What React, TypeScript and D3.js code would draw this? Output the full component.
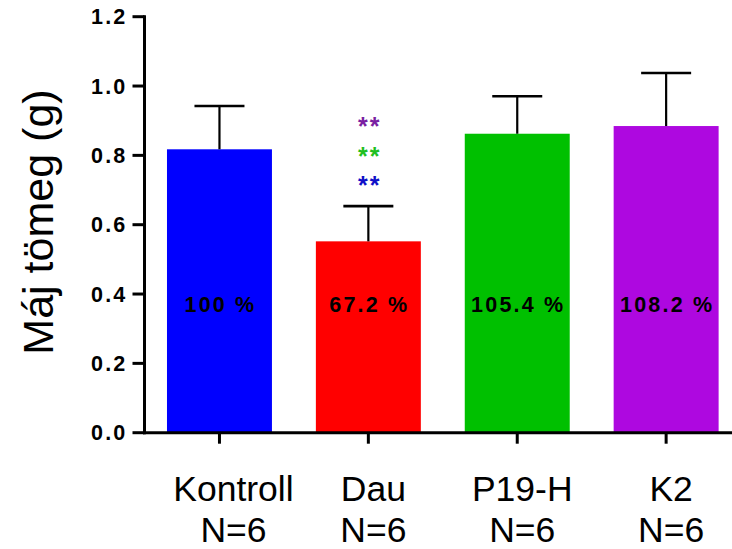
import React from 'react';
import * as d3 from 'd3';

// groups, means and SEM
const groups = ['Kontroll', 'Dau', 'P19-H', 'K2'];
const nLabels = ['N=6', 'N=6', 'N=6', 'N=6'];
const means = [0.8175, 0.552, 0.8624, 0.8846];
const sems = [0.125, 0.1017, 0.108, 0.153];
const percents = ['100 %', '67.2 %', '105.4 %', '108.2 %'];
const barColors = ['#0000ff', '#ff0000', '#00c000', '#ae08e0'];
const yTicks = [0, 0.2, 0.4, 0.6, 0.8, 1.0, 1.2];
// significance stars above Dau, bottom to top (vs Kontroll, P19-H, K2)
const starColors = ['#1010c8', '#1fbf1f', '#7a1fa2'];

const W = 732;
const H = 549;

export default function App() {
  const x = d3.scaleBand<string>()
    .domain(groups)
    .range([144.5, 741.1])
    .paddingInner(0.295)
    .paddingOuter(0.151);
  const y = d3.scaleLinear().domain([0, 1.2]).range([432.7, 16.7]);

  const axisX = 144.5;
  const bw = x.bandwidth();
  const capHalf = 25;
  const font = '"Liberation Sans", Arial, sans-serif';

  const dau = groups.indexOf('Dau');
  const dauCx = (x('Dau') as number) + bw / 2;
  const dauTop = y(means[dau] + sems[dau]);

  return (
    <div style={{ position: 'fixed', left: 0, top: 0 }}>
      <svg width={W} height={H} style={{ display: 'block', background: '#fff' }}>
        {/* bars */}
        {groups.map((g, i) => (
          <rect key={g} x={x(g)} y={y(means[i])} width={bw}
            height={y(0) - y(means[i])} fill={barColors[i]} />
        ))}

        {/* error bars (upper only) */}
        {groups.map((g, i) => {
          const cx = (x(g) as number) + bw / 2;
          const top = y(means[i] + sems[i]);
          return (
            <g key={g} stroke="#000" strokeWidth={2.2}>
              <line x1={cx} x2={cx} y1={y(means[i])} y2={top} />
              <line x1={cx - capHalf} x2={cx + capHalf} y1={top} y2={top} strokeWidth={2.6} />
            </g>
          );
        })}

        {/* percent labels inside bars */}
        {groups.map((g, i) => (
          <text key={g} x={(x(g) as number) + bw / 2 + 1} y={y(0.4) + 18}
            textAnchor="middle" fontFamily={font} fontWeight="bold"
            fontSize={21.5} letterSpacing={2.2} fill="#000">
            {percents[i]}
          </text>
        ))}

        {/* stars */}
        {starColors.map((c, k) => (
          <text key={k} x={dauCx + 1.5} y={dauTop - 24 - k * 29.5 + 12}
            textAnchor="middle" fontFamily={font} fontWeight="bold"
            fontSize={25} letterSpacing={2} fill={c}>
            **
          </text>
        ))}

        {/* y axis */}
        <line x1={axisX} x2={axisX} y1={y(1.2) - 1.5} y2={y(0) + 1.5} stroke="#000" strokeWidth={3} />
        {yTicks.map((t) => (
          <g key={t}>
            <line x1={axisX - 12} x2={axisX} y1={y(t)} y2={y(t)} stroke="#000" strokeWidth={3} />
            <text x={axisX - 17} y={y(t)} dy="0.36em" textAnchor="end"
              fontFamily={font} fontWeight="bold" fontSize={21.5} letterSpacing={2.2}>
              {t.toFixed(1)}
            </text>
          </g>
        ))}

        {/* x axis */}
        <line x1={axisX - 1.5} x2={W} y1={y(0)} y2={y(0)} stroke="#000" strokeWidth={3} />
        {groups.map((g, i) => {
          const cx = (x(g) as number) + bw / 2;
          return (
            <g key={g}>
              <line x1={cx} x2={cx} y1={y(0)} y2={y(0) + 11} stroke="#000" strokeWidth={3} />
              <text x={cx + (i === 0 ? 14 : 5)} y={501} textAnchor="middle" fontFamily={font} fontSize={35.5}>
                {g}
              </text>
              <text x={cx + (i === 0 ? 14 : 5)} y={542} textAnchor="middle" fontFamily={font} fontSize={35.5}>
                {nLabels[i]}
              </text>
            </g>
          );
        })}

        {/* y axis title */}
        <text transform="translate(53,222) rotate(-90)" textAnchor="middle"
          fontFamily={font} fontSize={43}>
          Máj tömeg (g)
        </text>
      </svg>
    </div>
  );
}
